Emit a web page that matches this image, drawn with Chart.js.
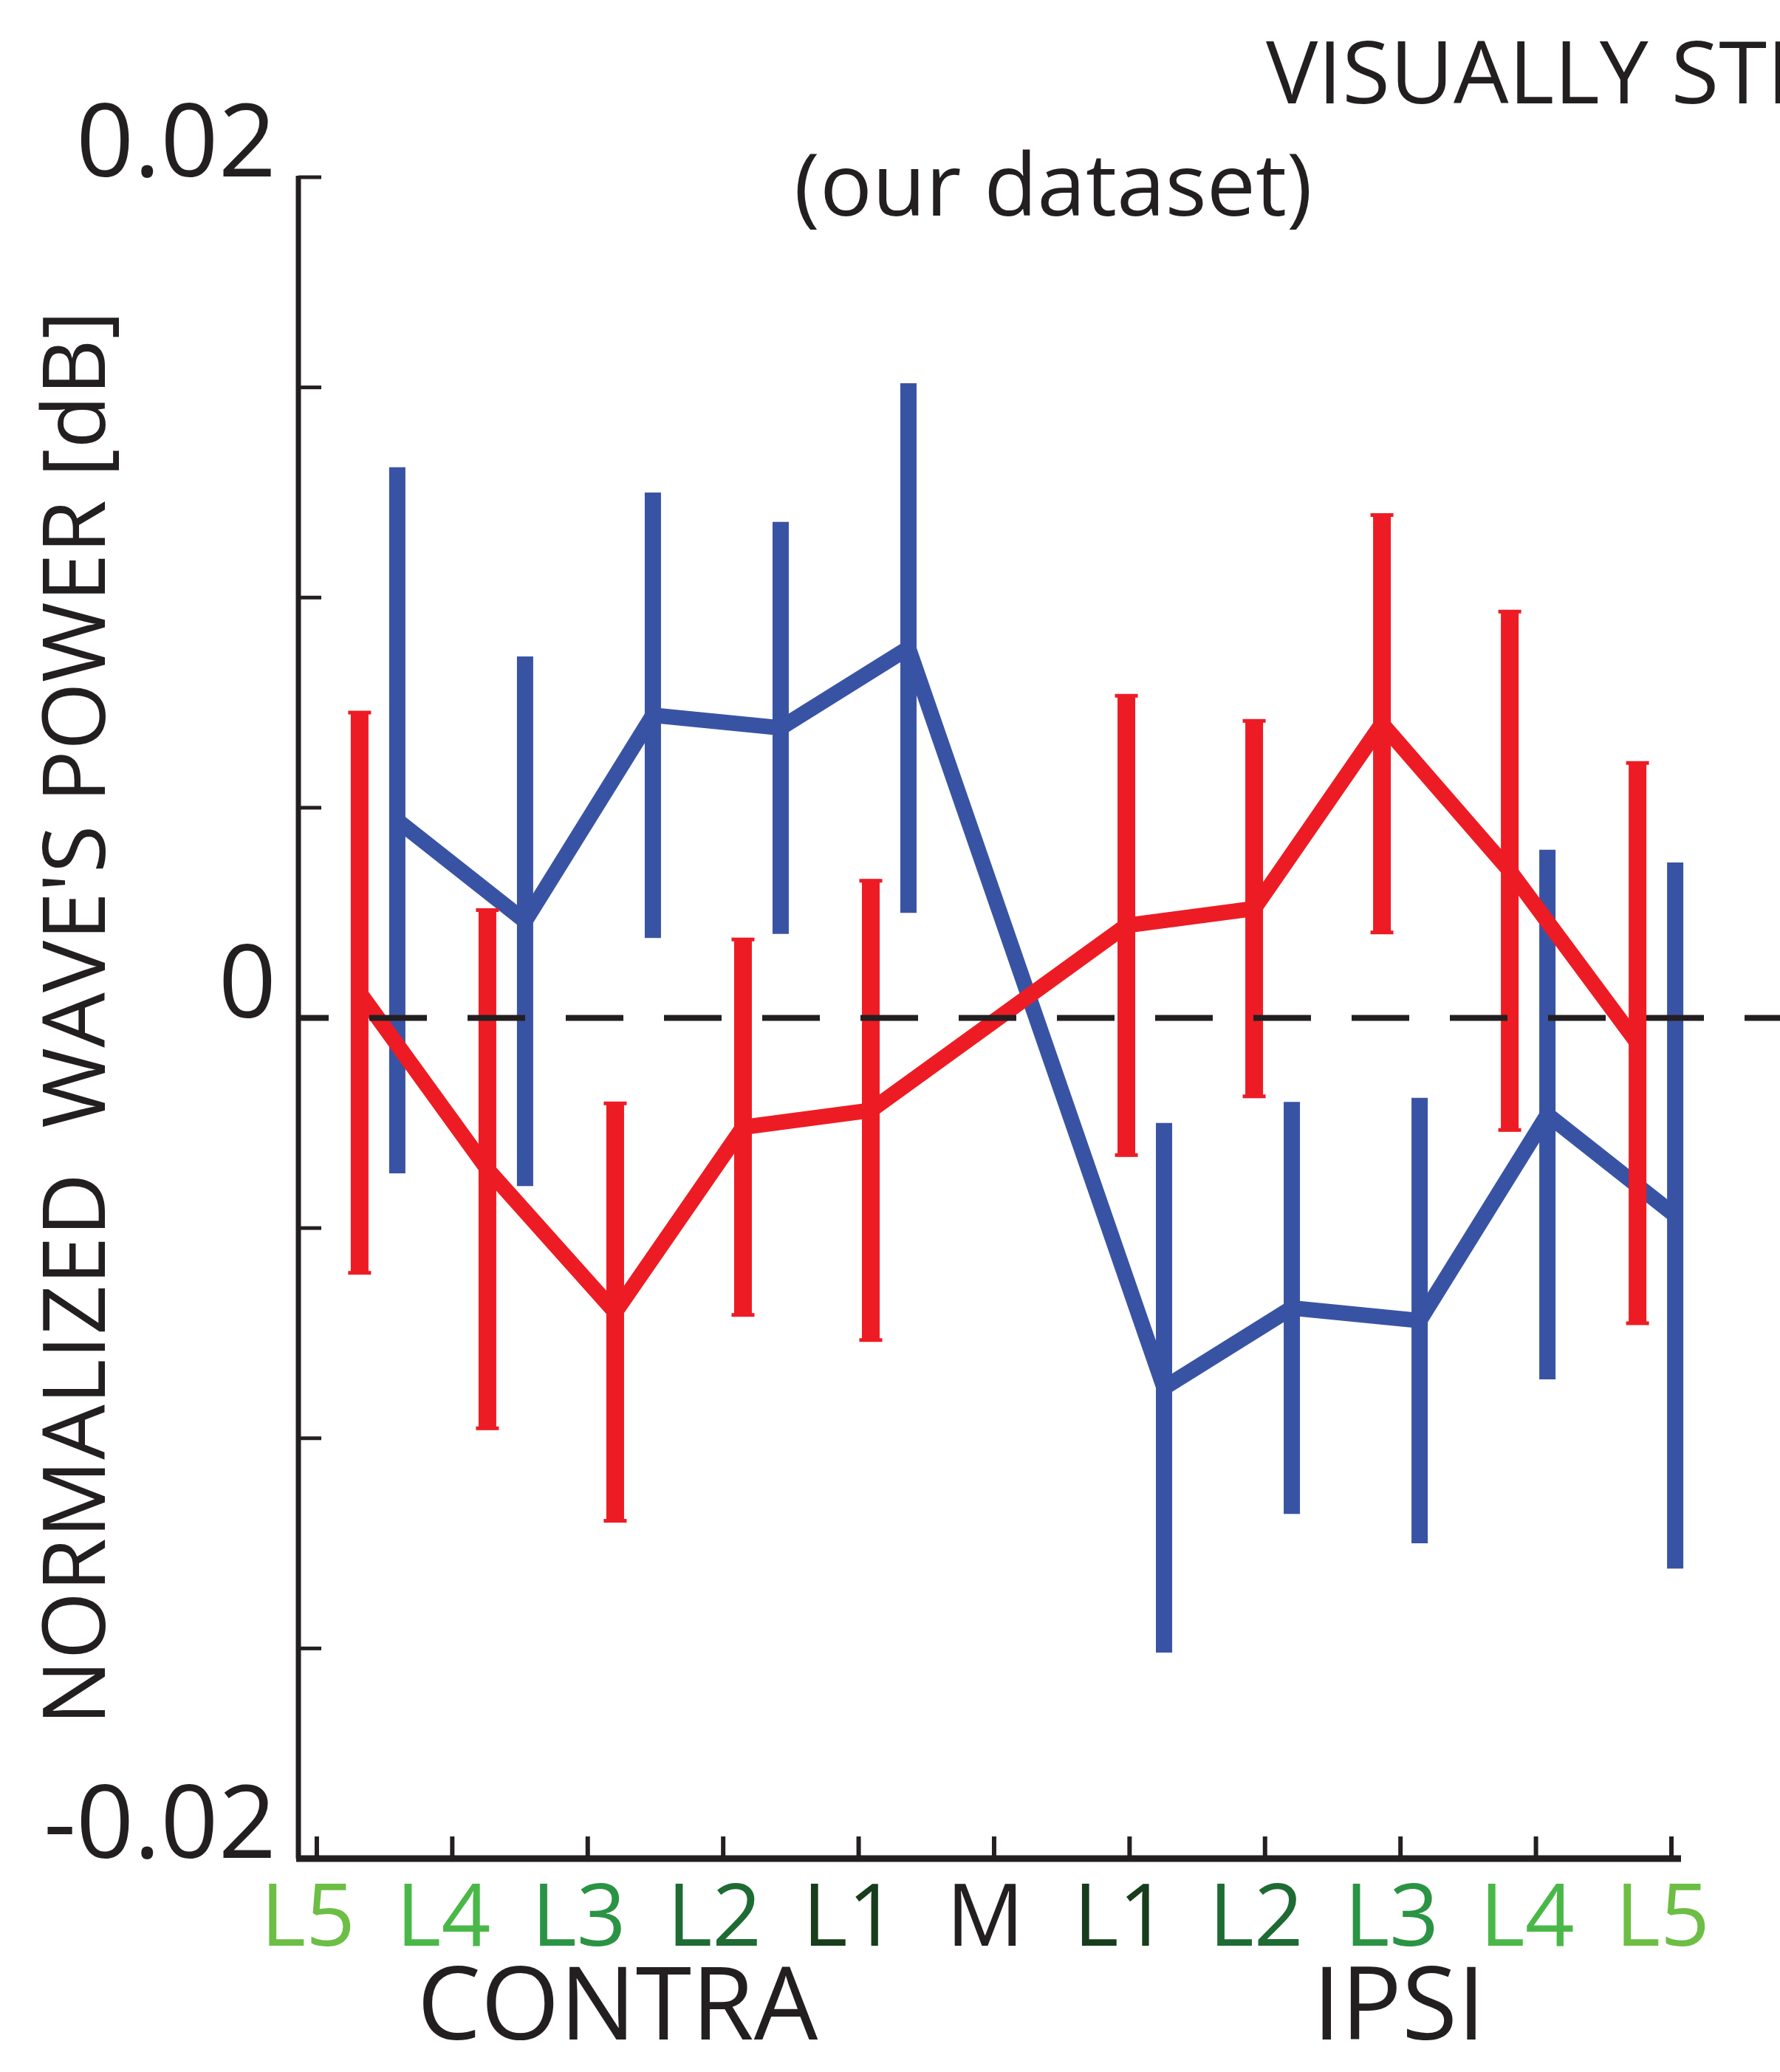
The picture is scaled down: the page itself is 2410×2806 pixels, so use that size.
<!DOCTYPE html>
<html>
<head>
<meta charset="utf-8">
<script src="https://cdn.jsdelivr.net/npm/chart.js@4.4.1/dist/chart.umd.min.js"></script>
<style>
    html, body { margin: 0; padding: 0; background: #fff; }
</style>
</head>
<body>
<canvas id="wavePower" width="2410" height="2806"></canvas>
<script>
// Change Label & Data Set Here
var sites = ['L5', 'L4', 'L3', 'L2', 'L1', 'M', 'L1', 'L2', 'L3', 'L4', 'L5'];
var siteColors = ['#6dbe45', '#4ab848', '#2a9444', '#1e6b34', '#173d1c', '#231f20',
    '#173d1c', '#1e6b34', '#2a9444', '#4ab848', '#6dbe45'];

// red series (mean, error half-length)
var redMean = [0.0006, -0.0036, -0.0070, -0.0026, -0.0022, 0, 0.0022, 0.0026, 0.0070, 0.0035, -0.0006];
var redErr = [0.0067, 0.0062, 0.0050, 0.0045, 0.0055, 0, 0.0055, 0.0045, 0.0050, 0.0062, 0.0067];

// blue series
var blueMean = [0.0047, 0.0023, 0.0072, 0.0069, 0.0088, 0, -0.0088, -0.0069, -0.0072, -0.0023, -0.0047];
var blueErr = [0.0084, 0.0063, 0.0053, 0.0049, 0.0063, 0, 0.0063, 0.0049, 0.0053, 0.0063, 0.0084];

var yTickLabels = { '-0.02': '-0.02', '0': '0', '0.02': '0.02' };

var FONT = '"Open Sans", "Noto Sans", sans-serif';

// points sit a bit off the ticks, and a bit tighter than them
var pointStep = 0.9434;
var redOffset = 0.316;
var blueOffset = 0.594;

function placed(means, offset) {
    return means.map(function (v, i) {
        return { x: offset + i * pointStep, y: v };
    });
}

/**
 * Vertical error bars, drawn right before the line of each dataset
 */
const errorBars = {
    id: 'errorBars',
    beforeDatasetDraw(chart, args) {
        const ds = chart.data.datasets[args.index];
        const { ctx } = chart;
        const y = chart.scales.y;
        ctx.save();
        ctx.strokeStyle = ds.borderColor;
        ctx.lineCap = 'butt';
        args.meta.data.forEach((pt, i) => {
            const e = ds.errors[i];
            if (!e) return;
            const top = y.getPixelForValue(ds.data[i].y + e);
            const bot = y.getPixelForValue(ds.data[i].y - e);
            ctx.lineWidth = ds.barWidth;
            ctx.beginPath();
            ctx.moveTo(pt.x, top);
            ctx.lineTo(pt.x, bot);
            ctx.stroke();
            if (ds.capWidth) {
                ctx.lineWidth = 5;
                ctx.beginPath();
                ctx.moveTo(pt.x - ds.capWidth / 2, top + 2);
                ctx.lineTo(pt.x + ds.capWidth / 2, top + 2);
                ctx.moveTo(pt.x - ds.capWidth / 2, bot - 2);
                ctx.lineTo(pt.x + ds.capWidth / 2, bot - 2);
                ctx.stroke();
            }
        });
        ctx.restore();
    }
};

/**
 * Axis lines with inward ticks and the dashed zero line
 */
const axesDraw = {
    id: 'axesDraw',
    afterDatasetsDraw(chart) {
        const { ctx, chartArea } = chart;
        const { x, y } = chart.scales;
        const yTop = y.getPixelForValue(0.02);
        const yBot = y.getPixelForValue(-0.02);
        const ax = chartArea.left;
        ctx.save();
        ctx.strokeStyle = '#231f20';
        ctx.lineCap = 'butt';

        // y axis
        ctx.lineWidth = 7;
        ctx.beginPath();
        ctx.moveTo(ax, yTop - 2);
        ctx.lineTo(ax, yBot);
        ctx.stroke();
        ctx.lineWidth = 5;
        y.ticks.forEach(t => {
            const py = y.getPixelForValue(t.value);
            ctx.beginPath();
            ctx.moveTo(ax, py);
            ctx.lineTo(ax + 31, py);
            ctx.stroke();
        });

        // x axis
        ctx.lineWidth = 9;
        ctx.beginPath();
        ctx.moveTo(ax - 3, yBot);
        ctx.lineTo(chartArea.right, yBot);
        ctx.stroke();
        ctx.lineWidth = 6;
        x.ticks.forEach(t => {
            const px = x.getPixelForValue(t.value);
            ctx.beginPath();
            ctx.moveTo(px, yBot);
            ctx.lineTo(px, yBot - 30);
            ctx.stroke();
        });

        // zero line
        const y0 = y.getPixelForValue(0);
        ctx.lineWidth = 8;
        ctx.setLineDash([78, 55]);
        ctx.lineDashOffset = 37;
        ctx.beginPath();
        ctx.moveTo(ax, y0);
        ctx.lineTo(chart.width, y0);
        ctx.stroke();
        ctx.restore();
    }
};

/**
 * Titles and group names
 */
const texts = {
    id: 'texts',
    afterDraw(chart) {
        const { ctx } = chart;
        const x = chart.scales.x;
        ctx.save();
        ctx.fillStyle = '#231f20';
        ctx.textBaseline = 'alphabetic';
        ctx.font = '118px ' + FONT;
        ctx.textAlign = 'left';
        ctx.fillText('VISUALLY STIMULATED', 1714, 140);
        ctx.textAlign = 'center';
        ctx.font = '118px ' + FONT;
        ctx.fillText('(our dataset)', 1426, 292);
        ctx.font = '137px ' + FONT;
        ctx.textBaseline = 'middle';
        ctx.fillText('CONTRA', x.getPixelForValue(2.22), 2723);
        ctx.fillText('IPSI', x.getPixelForValue(7.99), 2723);
        ctx.restore();
    }
};

const wavePower = new Chart(document.getElementById('wavePower'), {
    type: 'line',
    data: {
        datasets: [{
            data: placed(redMean, redOffset),
            errors: redErr,
            borderColor: '#ed1c24',
            borderWidth: 21,
            barWidth: 24,
            capWidth: 31,
            borderJoinStyle: 'miter',
            tension: 0,
            pointRadius: 0,
            pointHoverRadius: 0,
            clip: false,
        }, {
            data: placed(blueMean, blueOffset),
            errors: blueErr,
            borderColor: '#3953a4',
            borderWidth: 21,
            barWidth: 22,
            capWidth: 0,
            borderJoinStyle: 'miter',
            tension: 0,
            pointRadius: 0,
            pointHoverRadius: 0,
            clip: false,
        }]
    },
    options: {
        responsive: false,
        animation: false,
        layout: {
            padding: { top: 240, right: 134, bottom: 0, left: 0 }
        },
        plugins: {
            legend: { display: false },
            tooltip: { enabled: false },
        },
        scales: {
            x: {
                type: 'linear',
                min: -0.136,
                max: 10.071,
                afterBuildTicks: (s) => {
                    s.ticks = sites.map((_, i) => ({ value: i }));
                },
                afterFit: (s) => { s.height = 289; },
                grid: { display: false, drawTicks: false },
                border: { display: false },
                ticks: {
                    autoSkip: false,
                    maxRotation: 0,
                    padding: 14,
                    labelOffset: -12,
                    font: { family: FONT, size: 117 },
                    color: (c) => siteColors[c.index],
                    callback: (v, i) => sites[i],
                },
            },
            y: {
                min: -0.02,
                max: 0.02,
                afterFit: (s) => { s.width = 404; },
                grid: { display: false, drawTicks: false },
                border: { display: false },
                ticks: {
                    stepSize: 0.005,
                    padding: 30,
                    labelOffset: -40,
                    font: { family: FONT, size: 137 },
                    color: '#231f20',
                    callback: (v) => {
                        const key = String(Math.round(v * 1000) / 1000);
                        return yTickLabels[key] || '';
                    },
                },
                title: {
                    display: true,
                    text: "NORMALIZED  WAVE'S POWER [dB]",
                    color: '#231f20',
                    font: { family: FONT, size: 118 },
                    padding: { top: 38, bottom: 0 },
                },
            }
        }
    },
    plugins: [errorBars, axesDraw, texts]
});
</script>
</body>
</html>
